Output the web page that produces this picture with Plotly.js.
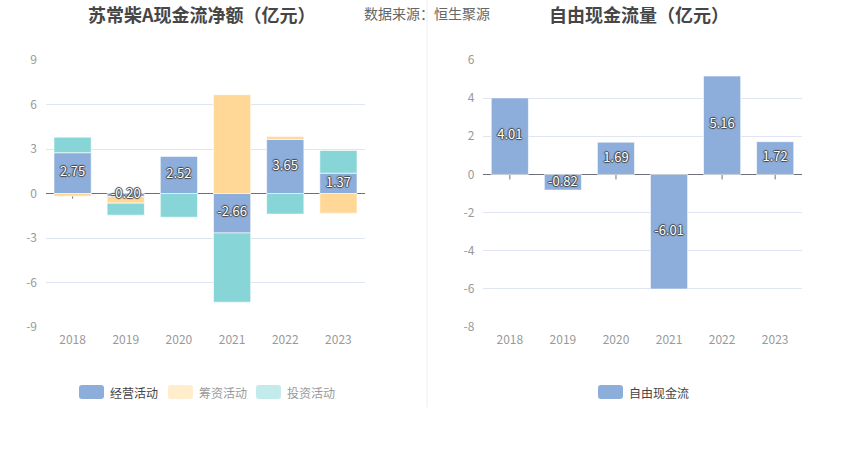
<!DOCTYPE html>
<html>
<head>
<meta charset="utf-8">
<script src="https://cdn.plot.ly/plotly-3.0.1.min.js"></script>
<style>html,body{margin:0;padding:0;background:#fff;}#chart{width:850px;height:458px;}</style>
</head>
<body>
<div id="chart"></div>
<script>
// ---- data ----
const years = ['2018', '2019', '2020', '2021', '2022', '2023'];
const operating = [2.75, -0.20, 2.52, -2.66, 3.65, 1.37];   // 经营活动
const financing = [-0.18, -0.45, 0.00, 6.66, 0.20, -1.33];  // 筹资活动
const investing = [1.05, -0.81, -1.60, -4.67, -1.39, 1.53]; // 投资活动
const freeCash = [4.01, -0.82, 1.69, -6.01, 5.16, 1.72];    // 自由现金流
const leftTicks = [-9, -6, -3, 0, 3, 6, 9];
const rightTicks = [-8, -6, -4, -2, 0, 2, 4, 6];
const leftTitle = '苏常柴A现金流净额（亿元）';
const rightTitle = '自由现金流量（亿元）';
const sourceText = '数据来源：恒生聚源';
const leftLegend = ['经营活动', '筹资活动', '投资活动'];
const rightLegend = ['自由现金流'];

// ---- styles ----
const W = 850, H = 458;
const FONT = '"Noto Sans CJK SC", "Microsoft YaHei", sans-serif';
const cOp = '#8DADDB', cFin = '#FFD898', cInv = '#88D5D8';
const legendColors = ['#8DADDB', '#FFEDCC', '#C3EBEB'];
const legendText = ['#444', '#999', '#999'];
const px = v => v / W, py = v => 1 - v / H;

const labelFont = {
  color: '#fff', size: 13, family: FONT,
  shadow: '1px 0 1px #444, -1px 0 1px #444, 0 1px 1px #444, 0 -1px 1px #444'
};
const barLine = {color: 'rgba(255,255,255,0.6)', width: 1};
const fmt = v => v.toFixed(2);

const traces = [
  {type: 'bar', x: years, y: operating, name: leftLegend[0], xaxis: 'x', yaxis: 'y',
   marker: {color: cOp, line: barLine}, hoverinfo: 'x+y'},
  {type: 'bar', x: years, y: financing, name: leftLegend[1], xaxis: 'x', yaxis: 'y',
   marker: {color: cFin, line: barLine}, hoverinfo: 'x+y'},
  {type: 'bar', x: years, y: investing, name: leftLegend[2], xaxis: 'x', yaxis: 'y',
   marker: {color: cInv, line: barLine}, hoverinfo: 'x+y'},
  // value labels of 经营活动, centred on their segments, drawn above all stacks
  {type: 'scatter', mode: 'text', x: years, y: operating.map(v => v / 2), text: operating.map(fmt),
   textposition: 'middle center', textfont: labelFont, xaxis: 'x', yaxis: 'y', hoverinfo: 'skip'},
  {type: 'bar', x: years, y: freeCash, name: rightLegend[0], xaxis: 'x2', yaxis: 'y2',
   marker: {color: cOp, line: barLine}, hoverinfo: 'x+y'},
  {type: 'scatter', mode: 'text', x: years, y: freeCash.map(v => v / 2), text: freeCash.map(fmt),
   textposition: 'middle center', textfont: labelFont, xaxis: 'x2', yaxis: 'y2', hoverinfo: 'skip'}
];

const yDom = [1 - 327 / H, 1 - 60 / H];
const axisX = (dom, anchor) => ({
  type: 'category', categoryorder: 'array', categoryarray: years, domain: dom, anchor: anchor,
  range: [-0.5, years.length - 0.5],
  showgrid: false, showline: false, zeroline: false, ticks: '',
  tickfont: {size: 12, color: '#999', family: FONT}, ticklabelstandoff: 4, fixedrange: true
});
const axisY = (range, ticks, anchor) => ({
  range: range, tickvals: ticks, ticktext: ticks.map(String), domain: yDom, anchor: anchor,
  gridcolor: '#E0E6F1', gridwidth: 1, showline: false,
  zeroline: true, zerolinecolor: '#6E7079', zerolinewidth: 1,
  ticks: '', tickfont: {size: 12, color: '#999', family: FONT}, ticklabelstandoff: 8,
  fixedrange: true
});

const shapes = [];
// divider
shapes.push({type: 'line', xref: 'paper', yref: 'paper', x0: px(427), x1: px(427),
  y0: py(0), y1: py(407), line: {color: '#EEEEEE', width: 1}});
// zero-line ticks at category centres
years.forEach((yr, i) => {
  [['x', 'y'], ['x2', 'y2']].forEach(([xr, yr2]) => {
    shapes.push({type: 'line', xref: xr, yref: yr2, x0: i, x1: i,
      ysizemode: 'pixel', yanchor: 0, y0: 0, y1: -5, layer: 'below',
      line: {color: '#6E7079', width: 1}});
  });
});

// manual legends
function roundRect(x0, y0, x1, y1, r) {
  const rx = r / W, ry = r / H;
  const X0 = px(x0), X1 = px(x1), Y0 = py(y0), Y1 = py(y1);
  return `M ${X0 + rx},${Y0} L ${X1 - rx},${Y0} Q ${X1},${Y0} ${X1},${Y0 - ry} ` +
    `L ${X1},${Y1 + ry} Q ${X1},${Y1} ${X1 - rx},${Y1} L ${X0 + rx},${Y1} ` +
    `Q ${X0},${Y1} ${X0},${Y1 + ry} L ${X0},${Y0 - ry} Q ${X0},${Y0} ${X0 + rx},${Y0} Z`;
}
const annotations = [];
const legendY = 392;
const leftLegendX = [79, 168, 256];
leftLegend.forEach((name, i) => {
  const x = leftLegendX[i];
  shapes.push({type: 'path', xref: 'paper', yref: 'paper', path: roundRect(x, legendY - 7, x + 25, legendY + 7, 3),
    fillcolor: legendColors[i], line: {width: 0}});
  annotations.push({xref: 'paper', yref: 'paper', x: px(x + 29), y: py(legendY), xanchor: 'left', yanchor: 'middle',
    text: name, showarrow: false, font: {size: 12, color: legendText[i], family: FONT}});
});
rightLegend.forEach((name) => {
  const x = 598;
  shapes.push({type: 'path', xref: 'paper', yref: 'paper', path: roundRect(x, legendY - 7, x + 25, legendY + 7, 3),
    fillcolor: legendColors[0], line: {width: 0}});
  annotations.push({xref: 'paper', yref: 'paper', x: px(x + 29), y: py(legendY), xanchor: 'left', yanchor: 'middle',
    text: name, showarrow: false, font: {size: 12, color: '#444', family: FONT}});
});
// titles
annotations.push({xref: 'paper', yref: 'paper', x: px(202), y: py(14), xanchor: 'center', yanchor: 'middle',
  text: '<b>' + leftTitle + '</b>', showarrow: false, font: {size: 18, color: '#464646', family: FONT}});
annotations.push({xref: 'paper', yref: 'paper', x: px(639), y: py(14), xanchor: 'center', yanchor: 'middle',
  text: '<b>' + rightTitle + '</b>', showarrow: false, font: {size: 18, color: '#464646', family: FONT}});
annotations.push({xref: 'paper', yref: 'paper', x: px(362), y: py(13), xanchor: 'left', yanchor: 'middle',
  text: sourceText, showarrow: false, font: {size: 14, color: '#666', family: FONT}});

const layout = {
  width: W, height: H, margin: {l: 0, r: 0, t: 0, b: 0},
  paper_bgcolor: '#fff', plot_bgcolor: '#fff',
  barmode: 'relative', bargap: 0.3, showlegend: false,
  font: {family: FONT},
  xaxis: axisX([46 / W, 365 / W], 'y'),
  yaxis: axisY([-9, 9], leftTicks, 'x'),
  xaxis2: axisX([483.3 / W, 801.7 / W], 'y2'),
  yaxis2: axisY([-8, 6], rightTicks, 'x2'),
  shapes: shapes, annotations: annotations
};

Plotly.newPlot('chart', traces, layout, {displayModeBar: false, staticPlot: true});
</script>
</body>
</html>
